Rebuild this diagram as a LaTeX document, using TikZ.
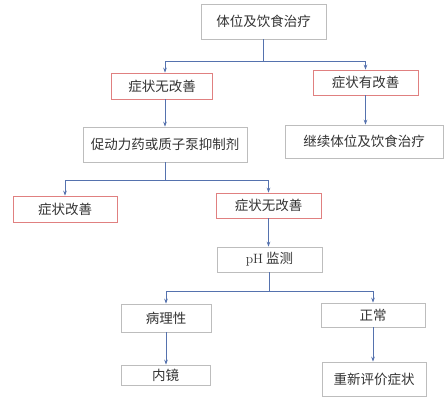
\documentclass[tikz,border=0pt]{standalone}
\usepackage{fontspec}
\newfontfamily\cjk{Noto Sans CJK SC}
\usetikzlibrary{arrows.meta}
\definecolor{boxgray}{HTML}{BDBDBD}
\definecolor{boxred}{HTML}{E08080}
\definecolor{arrblue}{HTML}{5572AE}
\definecolor{txt}{HTML}{333333}
\tikzset{
  box/.style={draw=boxgray, line width=0.7pt, fill=white, text=txt, inner sep=0pt, font=\cjk\fontsize{13.5}{14}\selectfont},
  redbox/.style={box, draw=boxred},
  arr/.style={draw=arrblue, line width=0.8pt, -{Stealth[length=5pt,width=3.6pt]}},
  ln/.style={draw=arrblue, line width=0.8pt}
}
\begin{document}
\begin{tikzpicture}[x=1pt,y=-1pt]
\useasboundingbox (0,0) rectangle (444,409);
\fill[white] (0,0) rectangle (444,409);
\node[box, minimum width=125pt, minimum height=35pt] (t) at (263.5,21.5) {体位及饮食治疗};
\node[redbox, minimum width=101pt, minimum height=26pt] (a) at (162,86) {症状无改善};
\node[redbox, minimum width=105pt, minimum height=25pt] (b) at (365.5,82.5) {症状有改善};
\node[box, minimum width=164pt, minimum height=35pt] (c) at (165,144.5) {促动力药或质子泵抑制剂};
\node[box, minimum width=158pt, minimum height=33pt] (d) at (364,141.5) {继续体位及饮食治疗};
\node[redbox, minimum width=104pt, minimum height=26pt] (e) at (65,209) {症状改善};
\node[redbox, minimum width=105pt, minimum height=25pt] (f) at (268.5,205.5) {症状无改善};
\node[box, minimum width=105pt, minimum height=25pt] (g) at (269.5,259.5) {{\fontspec{Latin Modern Roman}pH} 监测};
\node[box, minimum width=90pt, minimum height=28pt] (h) at (166,318) {病理性};
\node[box, minimum width=104pt, minimum height=24pt] (i) at (373,315) {正常};
\node[box, minimum width=89pt, minimum height=20pt] (j) at (165.5,375) {内镜};
\node[box, minimum width=104pt, minimum height=34pt] (k) at (374,379) {重新评价症状};
\coordinate (j1) at (263.5,61);
\coordinate (j2) at (165,180);
\coordinate (j3) at (269.5,291);
\draw[arr] (t.south) -- (j1) -| (c.north |- a.north);
\draw[arr] (j1) -| (b.north);
\draw[arr] (a.south -| c.north) -- (c.north);
\draw[arr] (b.south) -- (d.north -| b.south);
\draw[arr] (c.south) -- (j2) -| (e.north);
\draw[arr] (j2) -| (f.north);
\draw[arr] (f.south) -- (g.north -| f.south);
\draw[arr] (g.south) -- (j3) -| (h.north);
\draw[arr] (j3) -| (i.north);
\draw[arr] (h.south) -- (j.north -| h.south);
\draw[arr] (i.south) -- (k.north -| i.south);
\end{tikzpicture}
\end{document}
